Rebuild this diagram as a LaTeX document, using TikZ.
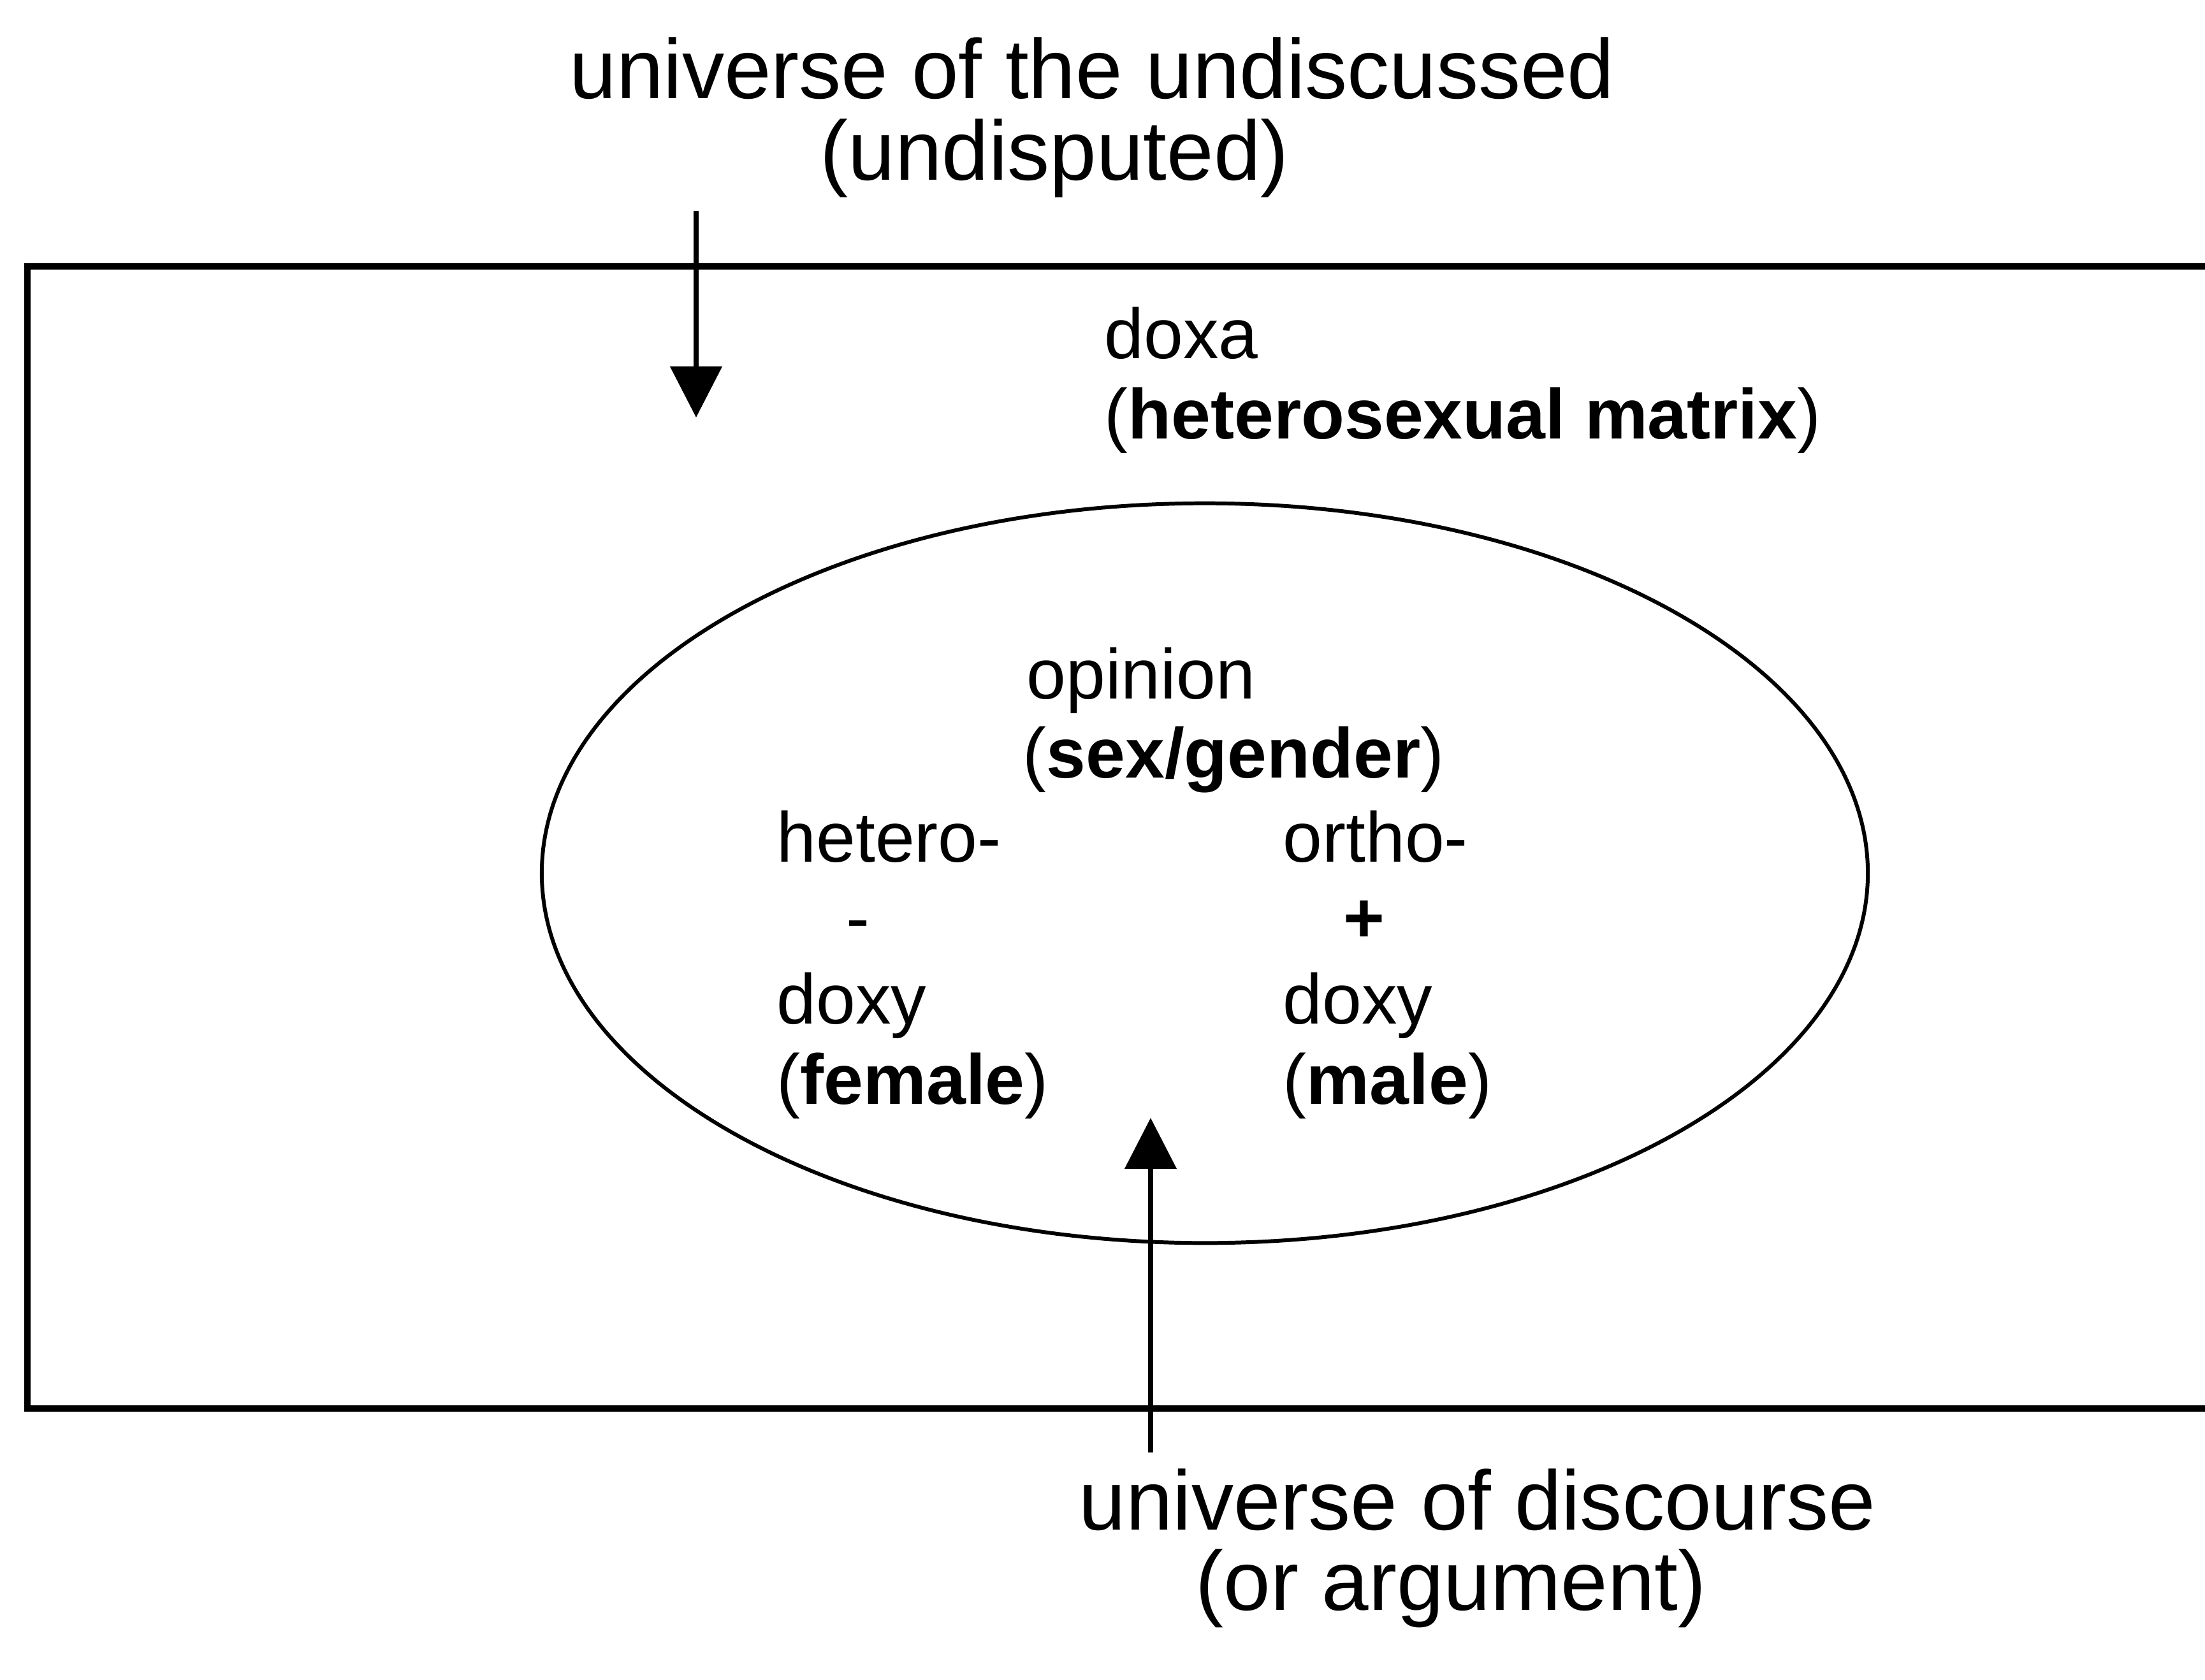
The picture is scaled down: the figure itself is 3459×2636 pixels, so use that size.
\documentclass[tikz,border=0pt]{standalone}
\usepackage{fontspec}
\setmainfont{Liberation Sans}
\usetikzlibrary{arrows.meta,shapes.geometric}
\begin{document}
\begin{tikzpicture}[x=0.01cm,y=-0.01cm,
  bigtxt/.style={inner sep=0pt, anchor=base west, font=\fontsize{37.6}{45}\selectfont},
  smalltxt/.style={inner sep=0pt, anchor=base west, font=\fontsize{31.6}{38}\selectfont},
  smallmid/.style={inner sep=0pt, anchor=base, font=\fontsize{31.6}{38}\selectfont},
  pointer/.style={line width=2.3pt, -{Triangle[length=0.8cm,width=0.8cm]}}]
\useasboundingbox (0,0) rectangle (3459,2636);
% outer box (right side runs off the page)
\draw[line width=2.8pt] (3560,418) -- (43,418) -- (43,2210) -- (3560,2210);
% ellipse
\node (zone) [draw, ellipse, line width=1.7pt, minimum width=20.79cm, minimum height=11.6cm, inner sep=0pt] at (1890,1370) {};
% top labels
\node (undisc) [bigtxt] at (893,154) {universe of the undiscussed};
\node (undisp) [bigtxt] at (1286,282) {(undisputed)};
% bottom labels
\node (disc) [bigtxt] at (1692,2400) {universe of discourse};
\node (arg) [bigtxt] at (1875,2526) {(or argument)};
% doxa
\node (doxa) [smalltxt] at (1732,562) {doxa};
\node (matrix) [smalltxt] at (1732,688) {(\textbf{heterosexual matrix})};
% opinion
\node (opinion) [smalltxt] at (1610,1096) {opinion};
\node (sexgender) [smalltxt] at (1604,1220) {(\textbf{sex/gender})};
% left column
\node (hetero) [smalltxt] at (1218,1352) {hetero-};
\node (minus) [smallmid] at (1346,1478) {-};
\node (ldoxy) [smalltxt] at (1218,1606) {doxy};
\node (female) [smalltxt] at (1218,1732) {(\textbf{female})};
% right column
\node (ortho) [smalltxt] at (2012,1352) {ortho-};
\node (plus) [smallmid] at (2140,1478) {\textbf{+}};
\node (rdoxy) [smalltxt] at (2012,1606) {doxy};
\node (male) [smalltxt] at (2012,1732) {(\textbf{male})};
% arrows
\coordinate (a1s) at (1092,331);
\coordinate (a1e) at (1092,655);
\coordinate (a2s) at (1805,2279);
\coordinate (a2e) at (1805,1754);
\draw[pointer] (a1s) -- (a1e);
\draw[pointer] (a2s) -- (a2e);
\end{tikzpicture}
\end{document}
